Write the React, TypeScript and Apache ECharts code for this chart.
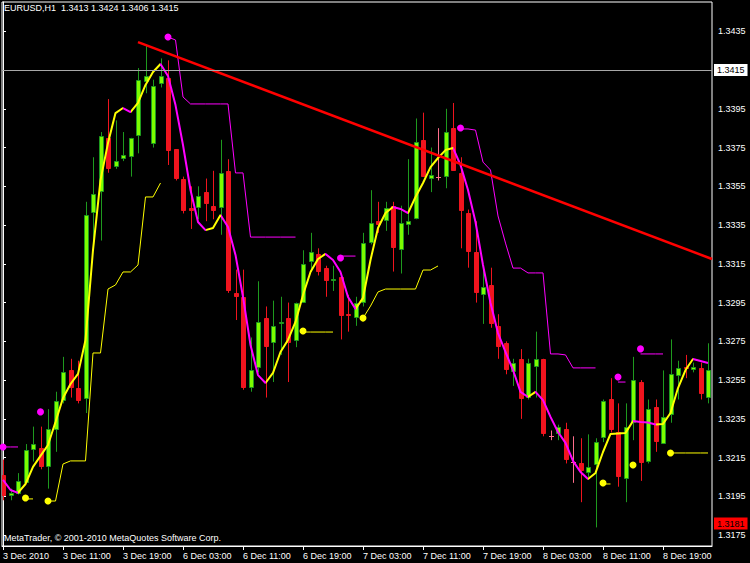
import React, { useEffect, useRef } from "react";
import * as echarts from "echarts";

const symbolTitle = "EURUSD,H1  1.3413 1.3424 1.3406 1.3415";
const copyrightText = "MetaTrader, © 2001-2010 MetaQuotes Software Corp.";

const xTickIndex = [0, 8, 16, 24, 32, 40, 48, 56, 64, 72, 80, 88];
const xTickLabels = [
  "3 Dec 2010", "3 Dec 11:00", "3 Dec 19:00", "6 Dec 03:00", "6 Dec 11:00", "6 Dec 19:00",
  "7 Dec 03:00", "7 Dec 11:00", "7 Dec 19:00", "8 Dec 03:00", "8 Dec 11:00", "8 Dec 19:00",
];
const yTickValues = [
  1.3175, 1.3195, 1.3215, 1.3235, 1.3255, 1.3275, 1.3295,
  1.3315, 1.3335, 1.3355, 1.3375, 1.3395, 1.3415, 1.3435,
];

const opens = [
  1.3206, 1.3195, 1.3196, 1.3202, 1.3219, 1.3220, 1.3210, 1.3229, 1.3244, 1.3260,
  1.3251, 1.3245, 1.3341, 1.3352, 1.3380, 1.3365, 1.3369, 1.3370, 1.3381, 1.3409,
  1.3377, 1.3408, 1.3411, 1.3374, 1.3359, 1.3344, 1.3344, 1.3352, 1.3345, 1.3344,
  1.3363, 1.3300, 1.3298, 1.3251, 1.3261, 1.3287, 1.3274, 1.3284, 1.3287, 1.3275,
  1.3295, 1.3316, 1.3320, 1.3313, 1.3306, 1.3308, 1.3289, 1.3287, 1.3295, 1.3326,
  1.3337, 1.3337, 1.3345, 1.3322, 1.3335, 1.3338, 1.3379, 1.3359, 1.3360, 1.3360,
  1.3385, 1.3362, 1.3341, 1.3321, 1.3299, 1.3304, 1.3283, 1.3274, 1.3259, 1.3266,
  1.3246, 1.3262, 1.3266, 1.3226, 1.3227, 1.3230, 1.3213, 1.3212, 1.3207, 1.3211,
  1.3225, 1.3245, 1.3228, 1.3204, 1.3233, 1.3254, 1.3213, 1.3241, 1.3222, 1.3237,
  1.3257, 1.3262, 1.3260, 1.3261, 1.3246,
];
const highs = [
  1.3214, 1.3199, 1.3207, 1.3222, 1.3231, 1.3231, 1.3240, 1.3249, 1.3267, 1.3266,
  1.3265, 1.3347, 1.3370, 1.3383, 1.3400, 1.3389, 1.3383, 1.3380, 1.3416, 1.3428,
  1.3410, 1.3421, 1.3420, 1.3374, 1.3360, 1.3355, 1.3355, 1.3359, 1.3363, 1.3379,
  1.3369, 1.3312, 1.3312, 1.3277, 1.3306, 1.3293, 1.3296, 1.3298, 1.3295, 1.3295,
  1.3322, 1.3331, 1.3323, 1.3314, 1.3314, 1.3308, 1.3299, 1.3298, 1.3331, 1.3353,
  1.3347, 1.3347, 1.3347, 1.3345, 1.3369, 1.3390, 1.3393, 1.3375, 1.3385, 1.3395,
  1.3398, 1.3370, 1.3343, 1.3337, 1.3314, 1.3313, 1.3289, 1.3275, 1.3266, 1.3271,
  1.3266, 1.3280, 1.3266, 1.3229, 1.3232, 1.3233, 1.3226, 1.3225, 1.3227, 1.3225,
  1.3245, 1.3256, 1.3243, 1.3243, 1.3267, 1.3255, 1.3245, 1.3245, 1.3260, 1.3276,
  1.3265, 1.3268, 1.3264, 1.3264, 1.3274,
];
const lows = [
  1.3193, 1.3193, 1.3196, 1.3202, 1.3213, 1.3209, 1.3199, 1.3218, 1.3243, 1.3246,
  1.3243, 1.3238, 1.3327, 1.3327, 1.3362, 1.3364, 1.3368, 1.3360, 1.3372, 1.3403,
  1.3375, 1.3406, 1.3366, 1.3358, 1.3341, 1.3333, 1.3338, 1.3337, 1.3338, 1.3330,
  1.3300, 1.3286, 1.3250, 1.3249, 1.3259, 1.3246, 1.3254, 1.3268, 1.3254, 1.3272,
  1.3295, 1.3311, 1.3309, 1.3298, 1.3301, 1.3276, 1.3280, 1.3283, 1.3293, 1.3325,
  1.3331, 1.3332, 1.3311, 1.3310, 1.3330, 1.3338, 1.3360, 1.3352, 1.3358, 1.3354,
  1.3363, 1.3323, 1.3313, 1.3295, 1.3284, 1.3282, 1.3266, 1.3258, 1.3252, 1.3235,
  1.3245, 1.3246, 1.3226, 1.3224, 1.3224, 1.3212, 1.3202, 1.3192, 1.3205, 1.3179,
  1.3223, 1.3228, 1.3200, 1.3192, 1.3224, 1.3203, 1.3212, 1.3218, 1.3222, 1.3233,
  1.3245, 1.3256, 1.3259, 1.3245, 1.3243,
];
const closes = [
  1.3195, 1.3197, 1.3203, 1.3219, 1.3222, 1.3210, 1.3230, 1.3244, 1.3259, 1.3251,
  1.3244, 1.3340, 1.3351, 1.3381, 1.3364, 1.3368, 1.3371, 1.3380, 1.3410, 1.3412,
  1.3407, 1.3412, 1.3373, 1.3359, 1.3342, 1.3342, 1.3350, 1.3346, 1.3342, 1.3362,
  1.3301, 1.3298, 1.3251, 1.3260, 1.3285, 1.3272, 1.3283, 1.3285, 1.3274, 1.3295,
  1.3315, 1.3321, 1.3311, 1.3306, 1.3307, 1.3288, 1.3288, 1.3295, 1.3326, 1.3336,
  1.3335, 1.3344, 1.3323, 1.3336, 1.3337, 1.3378, 1.3360, 1.3361, 1.3360, 1.3383,
  1.3363, 1.3342, 1.3321, 1.3300, 1.3303, 1.3284, 1.3272, 1.3260, 1.3264, 1.3245,
  1.3264, 1.3266, 1.3227, 1.3226, 1.3231, 1.3214, 1.3213, 1.3208, 1.3210, 1.3223,
  1.3244, 1.3229, 1.3205, 1.3231, 1.3255, 1.3212, 1.3240, 1.3223, 1.3236, 1.3258,
  1.3261, 1.3261, 1.3262, 1.3248, 1.3260,
];

const maValues = [
  1.32035, 1.31983, 1.31968, 1.32014, 1.32102, 1.32159, 1.32215, 1.32334, 1.32458, 1.3253,
  1.32582, 1.32757, 1.33221, 1.33582, 1.33773, 1.33928, 1.33954, 1.33933, 1.3398, 1.34073,
  1.3414, 1.34181, 1.34119, 1.33969, 1.33763, 1.33531, 1.33366, 1.33324, 1.33335, 1.33402,
  1.3334, 1.33196, 1.32979, 1.32731, 1.32576, 1.32535, 1.32587, 1.32695, 1.32757, 1.3285,
  1.32989, 1.33108, 1.33175, 1.33201, 1.3317, 1.33108, 1.32979, 1.32917, 1.32974, 1.3317,
  1.33335, 1.33412, 1.33443, 1.33433, 1.33412, 1.33495, 1.33567, 1.33649, 1.33696, 1.33737,
  1.33748, 1.3366, 1.33531, 1.33366, 1.33144, 1.32948, 1.32793, 1.32695, 1.32602, 1.32489,
  1.32463, 1.32489, 1.32447, 1.3236, 1.32282, 1.32226, 1.32133, 1.32076, 1.3204, 1.32071,
  1.32179, 1.32272, 1.32275, 1.32277, 1.32339, 1.32334, 1.32331, 1.32321, 1.32324, 1.3238,
  1.32509, 1.32602, 1.32659, 1.32649, 1.32638,
];

const upperBand = [
  1.32205, 1.32205, 1.32205, null, null, 1.32386, null, null, null, null,
  null, null, null, null, null, null, null, null, null, null,
  null, null, 1.3432, 1.34305, 1.34011, 1.33975, 1.33975, 1.33975, 1.33975, 1.33975,
  1.33975, 1.33619, 1.33619, 1.33288, 1.33288, 1.33288, 1.33288, 1.33288, 1.33288, 1.33288,
  null, null, null, null, null, 1.3319, 1.3319, 1.3319, null, null,
  null, null, null, null, null, null, null, null, null, null,
  null, 1.33846, 1.33846, 1.3384, 1.33675, 1.33634, 1.33397, 1.33257, 1.33128, 1.33128,
  1.33103, 1.33103, 1.33103, 1.32685, 1.32685, 1.3268, 1.32613, 1.32613, 1.32613, 1.32613,
  null, null, 1.3254, 1.3254, null, 1.32685, 1.32685, 1.32685, 1.32685, null,
  null, null, null, null, null,
];
const lowerBand = [
  null, null, null, 1.31937, 1.31937, null, 1.31926, 1.31926, 1.32117, 1.32133,
  1.32133, 1.32133, 1.3269, 1.3269, 1.3302, 1.33041, 1.33108, 1.33108, 1.33144, 1.33495,
  1.33495, 1.33567, null, null, null, null, null, null, null, null,
  null, null, null, null, null, null, null, null, null, null,
  1.32798, 1.32798, 1.32798, 1.32798, 1.32798, null, null, null, 1.3287, 1.32932,
  1.33005, 1.3302, 1.3302, 1.3302, 1.3302, 1.3302, 1.33118, 1.33118, 1.33139, null,
  null, null, null, null, null, null, null, null, null, null,
  null, null, null, null, null, null, null, null, null, null,
  1.32014, 1.32014, null, null, 1.32112, null, null, null, null, 1.32174,
  1.32174, 1.32174, 1.32174, 1.32174, 1.32174,
];

const upperDotIndex = [0, 5, 22, 45, 61, 82, 85];
const upperDotValues = [1.32205, 1.32386, 1.3432, 1.3318, 1.33851, 1.32566, 1.32711];
const lowerDotIndex = [3, 6, 40, 48, 80, 84, 89];
const lowerDotValues = [1.31942, 1.31926, 1.32803, 1.3287, 1.32019, 1.32112, 1.32174];

const trendIndex = [18, 94.533];
const trendValues = [1.34294, 1.33175];

const bidPrice = 1.3415;
const askPrice = 1.3181;

const X_MIN = -0.1333;
const X_MAX = 94.5333;
const Y_MIN = 1.31694;
const Y_MAX = 1.34501;

const YELLOW = "#FFFF00";
const MAGENTA = "#FF00FF";
const BULL_FILL = "#7CFC00";
const BULL_LINE = "#1E9A1E";
const BEAR = "#F0141E";
const DOJI = "#FF6E8C";
const FONT = "Liberation Sans";

export default function App() {
  const ref = useRef<HTMLDivElement>(null);

  useEffect(() => {
    document.body.style.margin = "0";
    document.body.style.background = "#000";
    const chart = echarts.init(ref.current as HTMLDivElement, null, { renderer: "svg" });
    const n = opens.length;

    const candleData = opens.map((o, i) => [i, o, closes[i], lows[i], highs[i]]);
    const maData = maValues.map((v, i) => [i, v]);
    const upperData = upperBand.map((v, i) => [i, v == null ? null : v]);
    const lowerData = lowerBand.map((v, i) => [i, v == null ? null : v]);
    const upperDots = upperDotIndex.map((ix, k) => [ix, upperDotValues[k]]);
    const lowerDots = lowerDotIndex.map((ix, k) => [ix, lowerDotValues[k]]);
    const trendData = trendIndex.map((ix, k) => [ix, trendValues[k]]);

    const segColor = (i: number) => (maValues[i] > maValues[i - 1] ? YELLOW : MAGENTA);
    const pieces: any[] = [];
    let start = -1;
    let cur = segColor(1);
    for (let i = 2; i < n; i++) {
      const c = segColor(i);
      if (c !== cur) {
        pieces.push({ gte: start, lt: i - 1, color: cur });
        start = i - 1;
        cur = c;
      }
    }
    pieces.push({ gte: start, lte: n + 5, color: cur });

    const option: any = {
      backgroundColor: "#000",
      animation: false,
      grid: {
        left: 2, top: 2, width: 710, height: 544,
        show: true, borderColor: "#fff", borderWidth: 1, backgroundColor: "transparent",
      },
      xAxis: {
        type: "value",
        min: X_MIN,
        max: X_MAX,
        axisLine: { show: true, lineStyle: { color: "#fff", width: 1 } },
        axisTick: { show: true, customValues: xTickIndex, length: 4, lineStyle: { color: "#fff" } },
        axisLabel: {
          customValues: xTickIndex,
          formatter: (v: number) => {
            const k = xTickIndex.indexOf(Math.round(v));
            return k >= 0 ? xTickLabels[k] : "";
          },
          color: "#fff", fontSize: 9, fontFamily: FONT, align: "left", margin: 5,
        },
        splitLine: { show: false },
      },
      yAxis: {
        type: "value",
        position: "right",
        min: Y_MIN,
        max: Y_MAX,
        axisLine: { show: true, lineStyle: { color: "#fff", width: 1 } },
        axisTick: { show: true, customValues: yTickValues, length: 3, lineStyle: { color: "#fff" } },
        axisLabel: {
          customValues: yTickValues,
          formatter: (v: number) => v.toFixed(4),
          color: "#fff", fontSize: 9, fontFamily: FONT, margin: 6,
        },
        splitLine: { show: false },
      },
      visualMap: {
        type: "piecewise",
        show: false,
        dimension: 0,
        seriesIndex: 3,
        pieces,
      },
      graphic: [
        {
          type: "text", left: 4, top: 3, silent: true,
          style: { text: symbolTitle, fill: "#fff", font: `9px "${FONT}"` },
        },
        {
          type: "text", left: 4, top: 533, silent: true,
          style: { text: copyrightText, fill: "#fff", font: `9px "${FONT}"` },
        },
      ],
      series: [
        {
          type: "custom",
          silent: true,
          clip: true,
          encode: { x: 0, y: [1, 2, 3, 4] },
          data: candleData,
          renderItem: (params: any, api: any) => {
            const i = api.value(0);
            const o = api.value(1);
            const c = api.value(2);
            const l = api.value(3);
            const h = api.value(4);
            const pH = api.coord([i, h]);
            const pL = api.coord([i, l]);
            const pO = api.coord([i, o]);
            const pC = api.coord([i, c]);
            const x = Math.round(pH[0]) + 0.5;
            const bull = c > o;
            const doji = c === o;
            const wick = doji ? DOJI : bull ? BULL_LINE : BEAR;
            const top = Math.round(Math.min(pO[1], pC[1]));
            const bot = Math.round(Math.max(pO[1], pC[1]));
            const children: any[] = [
              {
                type: "line",
                shape: { x1: x, y1: pH[1], x2: x, y2: pL[1] },
                style: { stroke: wick, lineWidth: 1 },
              },
            ];
            if (doji) {
              children.push({
                type: "line",
                shape: { x1: x - 2.5, y1: top + 0.5, x2: x + 2.5, y2: top + 0.5 },
                style: { stroke: DOJI, lineWidth: 1 },
              });
            } else {
              children.push({
                type: "rect",
                shape: { x: x - 2, y: top + 0.5, width: 4, height: Math.max(bot - top - 1, 1) },
                style: {
                  fill: bull ? BULL_FILL : BEAR,
                  stroke: bull ? BULL_LINE : BEAR,
                  lineWidth: 1,
                },
              });
            }
            return { type: "group", children };
          },
        },
        {
          type: "line",
          silent: true,
          data: lowerData,
          connectNulls: false,
          symbol: "none",
          lineStyle: { color: YELLOW, width: 1 },
          markLine: {
            silent: true,
            precision: 4,
            symbol: ["none", "none"],
            animation: false,
            data: [
              {
                yAxis: bidPrice,
                lineStyle: { color: "#A8A8A8", width: 1, type: "solid" },
                label: {
                  show: true, position: "end", distance: 2,
                  formatter: () => bidPrice.toFixed(4),
                  color: "#000", backgroundColor: "#fff",
                  fontSize: 9, fontFamily: FONT, padding: [2, 3, 1, 3],
                },
              },
              {
                yAxis: askPrice,
                lineStyle: { color: "rgba(0,0,0,0)", width: 1, type: "solid" },
                label: {
                  show: true, position: "end", distance: 2,
                  formatter: () => askPrice.toFixed(4),
                  color: "#000", backgroundColor: "#FF0000",
                  fontSize: 9, fontFamily: FONT, padding: [2, 3, 1, 3],
                },
              },
            ],
          },
        },
        {
          type: "line",
          silent: true,
          data: upperData,
          connectNulls: false,
          symbol: "none",
          lineStyle: { color: MAGENTA, width: 1 },
        },
        {
          type: "line",
          silent: true,
          data: maData,
          symbol: "none",
          lineStyle: { width: 2 },
        },
        {
          type: "scatter",
          silent: true,
          data: lowerDots,
          symbol: "circle",
          symbolSize: 7,
          itemStyle: { color: YELLOW, opacity: 1 },
        },
        {
          type: "scatter",
          silent: true,
          data: upperDots,
          symbol: "circle",
          symbolSize: 7,
          itemStyle: { color: MAGENTA, opacity: 1 },
        },
        {
          type: "line",
          silent: true,
          data: trendData,
          symbol: "none",
          lineStyle: { color: "#FF0000", width: 2.5 },
        },
      ],
    };

    chart.setOption(option);
    return () => chart.dispose();
  }, []);

  return (
    <div
      ref={ref}
      style={{ position: "absolute", left: 0, top: 0, width: 750, height: 563, background: "#000" }}
    />
  );
}
